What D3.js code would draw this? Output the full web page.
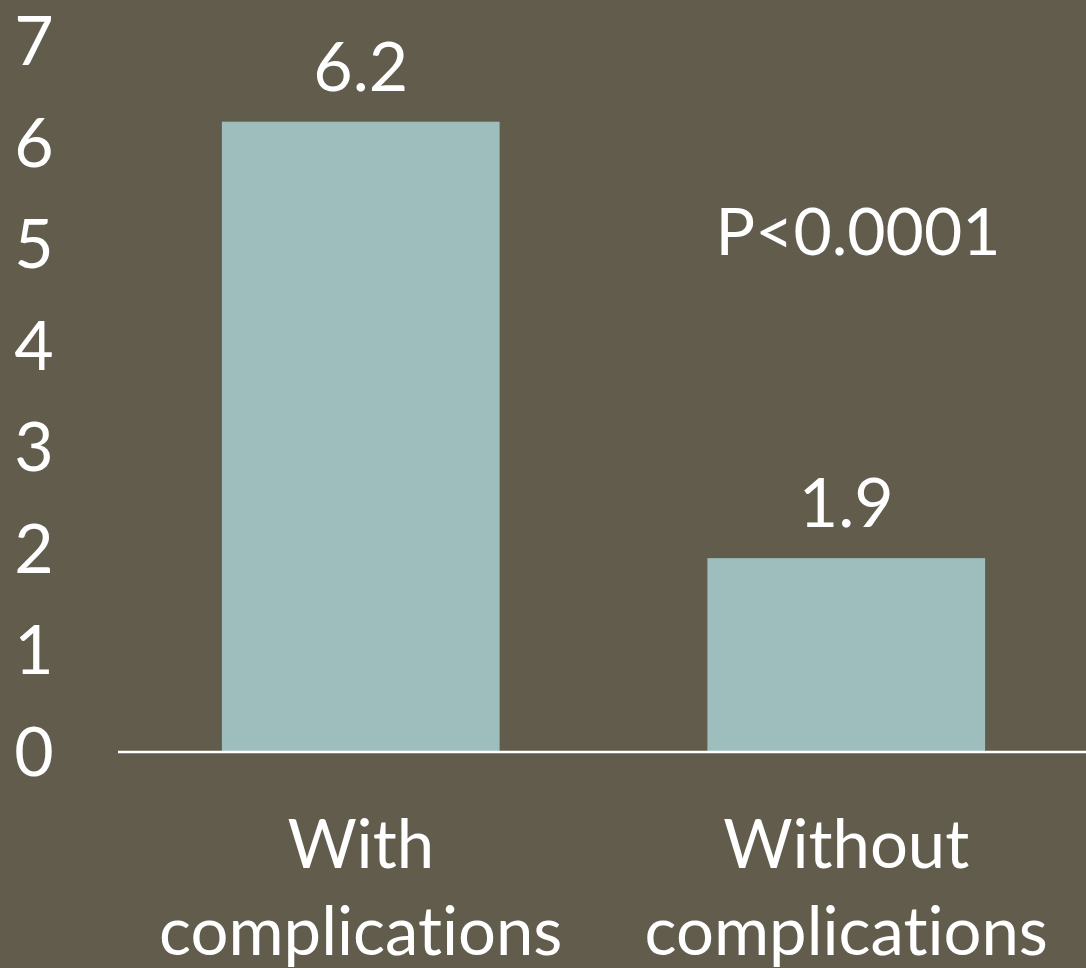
<!DOCTYPE html>
<html>
<head>
<meta charset="utf-8">
<script src="https://cdn.jsdelivr.net/npm/d3@7"></script>
<style>
  html, body { margin: 0; padding: 0; background: #625C4D; }
  svg { display: block; }
  text { font-family: Lato, "Open Sans", sans-serif; fill: #ffffff; font-variant-ligatures: none; }
</style>
</head>
<body>
<svg id="chart" width="1086" height="968"></svg>
<script>
// Category names (each split over two lines) and their values
const categories = ["With complications", "Without complications"];
const categoryLines = [["With", "complications"], ["Without", "complications"]];
const values = [6.2, 1.9];
const valueLabels = ["6.2", "1.9"];
const yTicks = [0, 1, 2, 3, 4, 5, 6, 7];
const pValueText = "P<0.0001";

const W = 1086, H = 968;
const svg = d3.select("#chart");

const x = d3.scaleBand()
  .domain(categories)
  .range([118, 1089])
  .paddingInner(0.428)
  .paddingOuter(0.214);

const y = d3.scaleLinear()
  .domain([0, 7])
  .range([751, 40.5]);

// Bars
svg.append("g")
  .selectAll("rect")
  .data(values)
  .join("rect")
  .attr("x", (d, i) => x(categories[i]))
  .attr("y", d => y(d))
  .attr("width", x.bandwidth())
  .attr("height", d => y(0) - y(d))
  .attr("fill", "#9DBEBD");

// Baseline
svg.append("line")
  .attr("x1", 118).attr("x2", W)
  .attr("y1", y(0) + 1).attr("y2", y(0) + 1)
  .attr("stroke", "#ffffff")
  .attr("stroke-width", 2.5);

// Y axis labels
const yAxis = svg.append("g")
  .attr("transform", "translate(34,0)")
  .call(d3.axisLeft(y).tickValues(yTicks).tickSize(0).tickPadding(0).tickFormat(d3.format("d")));
yAxis.select(".domain").remove();
yAxis.selectAll("text")
  .attr("x", 0)
  .attr("text-anchor", "middle")
  .attr("dy", "0.36em")
  .style("font-family", "Lato, 'Open Sans', sans-serif")
  .style("font-size", "68px")
  .attr("fill", "#ffffff");

// Value labels above bars
svg.append("g")
  .selectAll("text")
  .data(values)
  .join("text")
  .attr("x", (d, i) => x(categories[i]) + x.bandwidth() / 2)
  .attr("y", d => y(d) - 31)
  .attr("text-anchor", "middle")
  .style("font-size", "68px")
  .text((d, i) => valueLabels[i]);

// Category labels
const cat = svg.append("g")
  .selectAll("text")
  .data(categories)
  .join("text")
  .attr("text-anchor", "middle")
  .style("font-size", "67px");
cat.each(function(d, i) {
  const t = d3.select(this);
  const cx = x(d) + x.bandwidth() / 2;
  categoryLines[i].forEach((line, j) => {
    t.append("tspan")
      .attr("x", cx)
      .attr("y", 868 + j * 87)
      .text(line);
  });
});

// Significance annotation
svg.append("text")
  .attr("x", 858)
  .attr("y", 255)
  .attr("text-anchor", "middle")
  .style("font-size", "66px")
  .text(pValueText);
</script>
</body>
</html>
